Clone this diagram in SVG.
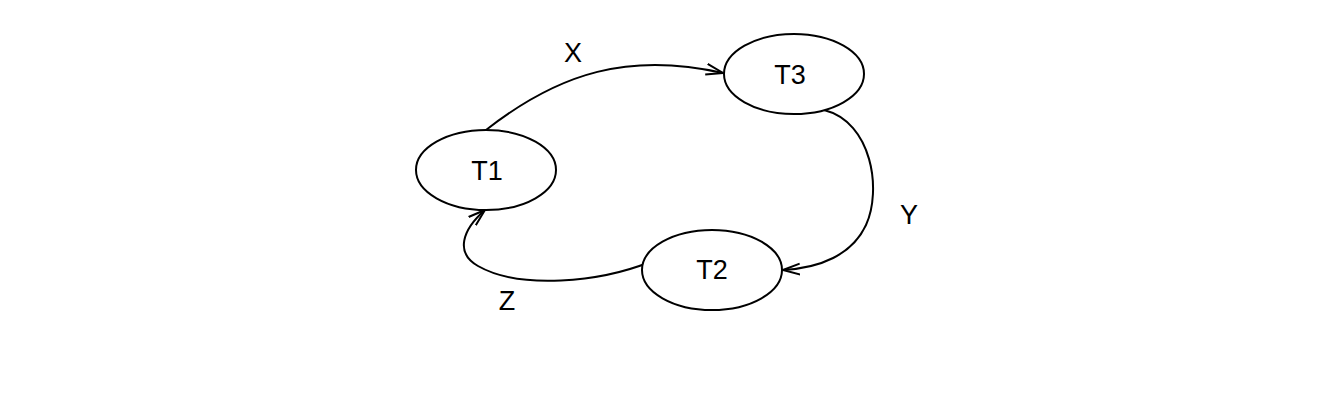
<svg xmlns="http://www.w3.org/2000/svg" width="1324" height="404" viewBox="0 0 1324 404">
<defs>
<style>
.node ellipse{fill:#fff;stroke:#000;stroke-width:2}
.node text,.lbl{font-family:"Liberation Sans",Arial,sans-serif;font-size:27px;fill:#000;text-anchor:middle}
.edge{fill:none;stroke:#000;stroke-width:2;marker-end:url(#arr)}
</style>
<marker id="arr" markerWidth="20" markerHeight="14" refX="17" refY="7" orient="auto" markerUnits="userSpaceOnUse">
<polyline points="0,1.5 17,7 0,12.5" fill="none" stroke="#000" stroke-width="2"/>
</marker>
</defs>
<rect width="1324" height="404" fill="#fff"/>
<g id="connectors">
<path class="edge" d="M486,130 C560,72 630,52 723,73"/>
<path class="edge" d="M824,110 C872,122 882,190 866,225 C852,255 820,268 783,270"/>
<path class="edge" d="M650,262 C600,282 520,290 478,266 C455,253 462,230 485,210"/>
<text class="lbl" x="573" y="62">X</text>
<text class="lbl" x="909" y="224">Y</text>
<text class="lbl" x="507" y="310">Z</text>
</g>
<g id="T1" class="node"><ellipse cx="486" cy="170" rx="70" ry="40"/><text x="487" y="180">T1</text></g>
<g id="T3" class="node"><ellipse cx="794" cy="74" rx="70" ry="40"/><text x="790" y="84">T3</text></g>
<g id="T2" class="node"><ellipse cx="712" cy="270" rx="70" ry="40"/><text x="712" y="279">T2</text></g>
</svg>
